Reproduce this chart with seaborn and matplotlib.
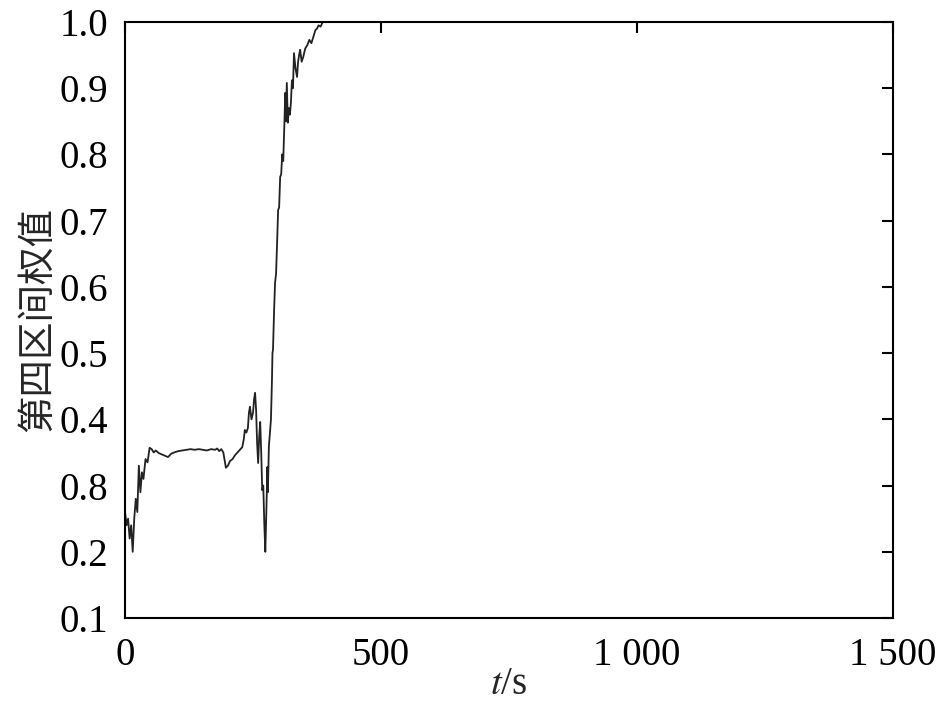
import matplotlib
matplotlib.use("Agg")
import matplotlib.pyplot as plt
import seaborn as sns

# time (s) and weight of the 4th interval
t_s = [0, 3, 6, 9, 12, 15, 18, 21, 24, 27, 30, 33, 36, 40, 44, 48, 52, 56,
       60, 66, 72, 78, 84, 90, 96, 104, 112, 120, 128, 136, 144, 152, 160,
       168, 176, 180, 184, 188, 192, 197, 201, 205, 210, 215, 222, 229, 232,
       234, 237, 240, 242, 244, 247, 250, 252, 254, 256, 258, 260, 262, 264,
       266, 268, 270, 272, 274, 276, 277, 278, 279, 281, 283, 285, 287, 288,
       289, 291, 293, 295, 297, 299, 301, 303, 305, 307, 309, 311, 313, 314,
       316, 318, 320, 322, 324, 326, 328, 330, 333, 336, 338, 340, 342, 345,
       348, 352, 356, 360, 364, 368, 372, 375, 378, 382, 386, 390, 395, 400,
       1500]
weight = [0.26, 0.24, 0.25, 0.22, 0.24, 0.20, 0.25, 0.28, 0.26, 0.33, 0.29,
          0.32, 0.31, 0.34, 0.335, 0.357, 0.355, 0.350, 0.353, 0.349, 0.347,
          0.345, 0.343, 0.348, 0.350, 0.352, 0.353, 0.354, 0.355, 0.354,
          0.355, 0.354, 0.353, 0.355, 0.354, 0.356, 0.352, 0.355, 0.350,
          0.327, 0.330, 0.337, 0.340, 0.346, 0.352, 0.358, 0.37, 0.384,
          0.38, 0.387, 0.41, 0.419, 0.40, 0.41, 0.43, 0.44, 0.414, 0.364,
          0.334, 0.373, 0.396, 0.35, 0.293, 0.30, 0.243, 0.20, 0.26, 0.293,
          0.328, 0.29, 0.36, 0.379, 0.40, 0.46, 0.50, 0.505, 0.56, 0.606,
          0.62, 0.666, 0.716, 0.72, 0.766, 0.77, 0.80, 0.79, 0.84, 0.893,
          0.85, 0.908, 0.848, 0.87, 0.86, 0.878, 0.912, 0.90, 0.953, 0.93,
          0.917, 0.94, 0.95, 0.958, 0.94, 0.947, 0.96, 0.965, 0.973, 0.968,
          0.978, 0.988, 0.99, 0.995, 0.993, 1.0, 1.0, 1.0, 1.0, 1.0]

y_ticks = [0.1, 0.2, 0.3, 0.4, 0.5, 0.6, 0.7, 0.8, 0.9, 1.0]
y_tick_labels = ["0.1", "0.2", "0.8", "0.4", "0.5", "0.6", "0.7", "0.8", "0.9", "1.0"]
x_ticks = [0, 500, 1000, 1500]
x_tick_labels = ["0", "500", "1 000", "1 500"]

sns.set_theme(style="white")
plt.rcParams['font.family'] = ['Liberation Serif', 'Noto Sans CJK SC']
plt.rcParams['mathtext.fontset'] = 'stix'

fig = plt.figure(figsize=(9.45, 7.05), dpi=100)
ax = fig.add_axes([0.1323, 0.1234, 0.8127, 0.8454])

sns.lineplot(x=t_s, y=weight, estimator=None, sort=False,
             color='#222222', linewidth=1.3, ax=ax)

ax.set_xlim(0, 1500)
ax.set_ylim(0.1, 1.0)
ax.set_xticks(x_ticks)
ax.set_xticklabels(x_tick_labels)
ax.set_yticks(y_ticks)
ax.set_yticklabels(y_tick_labels)
ax.tick_params(direction='in', length=8, width=1.5, labelsize=28,
               top=True, right=True, colors='black')
ax.tick_params(axis='y', pad=12)
ax.tick_params(axis='x', pad=14)
for spine in ax.spines.values():
    spine.set_linewidth(1.5)
    spine.set_color('black')

ax.set_xlabel(r'$t$/s', fontsize=28, labelpad=-6)
ax.set_ylabel('第四区间权值', fontsize=27, family=['Noto Sans CJK SC'], labelpad=2)

plt.savefig('out.png', dpi=100)
plt.close()
